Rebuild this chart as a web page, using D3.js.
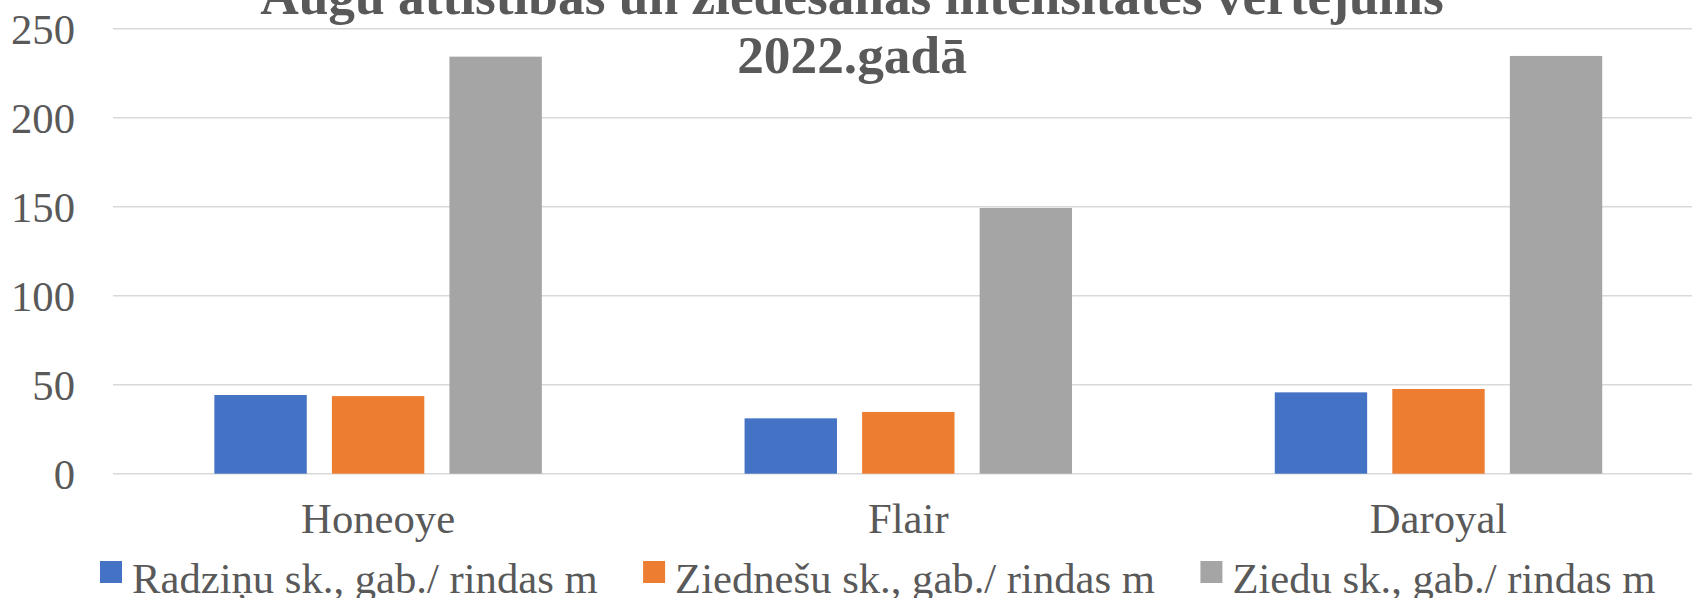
<!DOCTYPE html>
<html>
<head>
<meta charset="utf-8">
<script src="https://cdn.jsdelivr.net/npm/d3@7/dist/d3.min.js"></script>
<style>
  html, body { margin: 0; padding: 0; background: #fff; overflow: hidden; }
  svg { display: block; font-family: "Liberation Serif", "Times New Roman", serif; }
</style>
</head>
<body>
<svg id="chart" width="1692" height="598"></svg>
<script>
// chart data
var categories = ['Honeoye', 'Flair', 'Daroyal'];
var seriesNames = ['Radziņu sk., gab./ rindas m', 'Ziednešu sk., gab./ rindas m', 'Ziedu sk., gab./ rindas m'];
var radzini = [44.2, 31.1, 45.7];
var ziednesi = [43.6, 34.7, 47.6];
var ziedi = [234.3, 149.3, 234.7];
var yTicks = [0, 50, 100, 150, 200, 250];
var titleLines = ['Augu attīstības un ziedēšanas intensitātes vērtējums', '2022.gadā'];

var colors = ['#4472C4', '#ED7D31', '#A5A5A5'];
var textColor = '#595959';
var gridColor = '#D9D9D9';

var svg = d3.select('#chart');

// the plot area runs a little past the right edge of the picture, as in the reference
var plot = { left: 113, right: 1703.6, top: 28.7, bottom: 473.7 };

var x0 = d3.scaleBand()
  .domain(categories)
  .range([plot.left, plot.right])
  .paddingInner(0)
  .paddingOuter(0);

var groupOffset = x0.bandwidth() * 0.1912;
var x1 = d3.scaleBand()
  .domain(d3.range(seriesNames.length))
  .range([groupOffset, x0.bandwidth() - groupOffset])
  .paddingInner(0.214)
  .paddingOuter(0);

var y = d3.scaleLinear()
  .domain([0, 250])
  .range([plot.bottom, plot.top]);

// gridlines
svg.append('g')
  .selectAll('line')
  .data(yTicks)
  .enter().append('line')
  .attr('x1', plot.left)
  .attr('x2', plot.right)
  .attr('y1', function(d) { return y(d); })
  .attr('y2', function(d) { return y(d); })
  .attr('stroke', gridColor)
  .attr('stroke-width', 1.5);

// y axis labels
var yAxis = d3.axisLeft(y).tickValues(yTicks).tickSize(0).tickPadding(0);
var yg = svg.append('g')
  .attr('transform', 'translate(75,0)')
  .call(yAxis);
yg.select('.domain').remove();
yg.selectAll('text')
  .attr('fill', textColor)
  .attr('font-size', '42.67px')
  .attr('font-family', 'Liberation Serif')
  .attr('dy', '0.34em');

// bars
var values = [radzini, ziednesi, ziedi];
var groups = svg.append('g')
  .selectAll('g')
  .data(categories)
  .enter().append('g')
  .attr('transform', function(d) { return 'translate(' + x0(d) + ',0)'; });

groups.selectAll('rect')
  .data(function(d, ci) {
    return values.map(function(v, si) { return { s: si, v: v[ci] }; });
  })
  .enter().append('rect')
  .attr('x', function(d) { return x1(d.s); })
  .attr('width', x1.bandwidth())
  .attr('y', function(d) { return y(d.v); })
  .attr('height', function(d) { return y(0) - y(d.v); })
  .attr('fill', function(d) { return colors[d.s]; });

// category labels
var xAxis = d3.axisBottom(x0).tickSize(0).tickPadding(0);
var xg = svg.append('g')
  .attr('transform', 'translate(0,' + plot.bottom + ')')
  .call(xAxis);
xg.select('.domain').remove();
xg.selectAll('text')
  .attr('fill', textColor)
  .attr('font-size', '42.67px')
  .attr('font-family', 'Liberation Serif')
  .attr('y', 59)
  .attr('dy', 0);

// title (top line is cut by the picture edge in the reference)
svg.append('text')
  .attr('text-anchor', 'middle')
  .attr('fill', textColor)
  .attr('font-weight', 'bold')
  .attr('font-size', '53.33px')
  .selectAll('tspan')
  .data(titleLines)
  .enter().append('tspan')
  .attr('x', 852)
  .attr('y', function(d, i) { return i === 0 ? 14 : 73; })
  .text(function(d) { return d; });

// legend
var legend = svg.append('g').attr('transform', 'translate(100,0)');
var lx = 0;
seriesNames.forEach(function(name, i) {
  var item = legend.append('g').attr('transform', 'translate(' + lx + ',0)');
  item.append('rect')
    .attr('x', 0)
    .attr('y', 561)
    .attr('width', 22)
    .attr('height', 22)
    .attr('fill', colors[i]);
  var t = item.append('text')
    .attr('x', 32)
    .attr('y', 593)
    .attr('fill', textColor)
    .attr('font-size', '42.67px')
    .text(name);
  lx += 32 + t.node().getComputedTextLength() + 45.5;
});
</script>
</body>
</html>
